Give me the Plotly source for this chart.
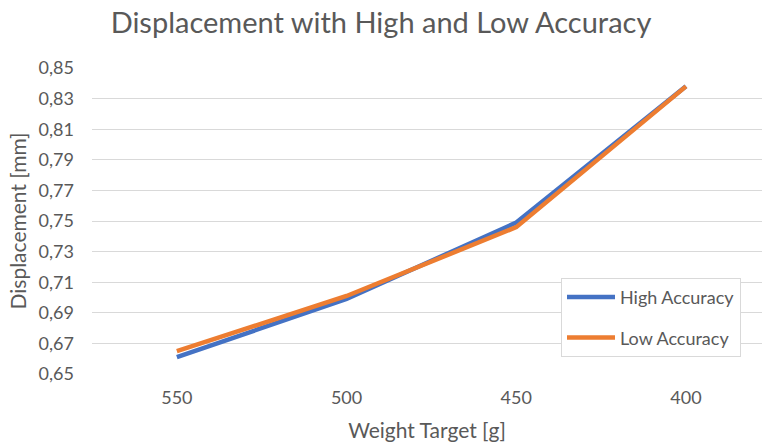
import plotly.graph_objects as go

# Data
weight_targets = ["550", "500", "450", "400"]
high_accuracy = [0.661, 0.699, 0.749, 0.838]
low_accuracy = [0.665, 0.701, 0.746, 0.838]
y_ticks = [0.65, 0.67, 0.69, 0.71, 0.73, 0.75, 0.77, 0.79, 0.81, 0.83, 0.85]

FONT = "Lato"
TEXT_GRAY = "#595959"
GRID = "#D9D9D9"

fig = go.Figure()
fig.add_trace(go.Scatter(
    x=weight_targets, y=high_accuracy, mode="lines", name="High Accuracy",
    line=dict(color="#4472C4", width=4.5), legendgroup="high",
))
fig.add_trace(go.Scatter(
    x=weight_targets, y=low_accuracy, mode="lines", name="Low Accuracy",
    line=dict(color="#ED7D31", width=4.5), legendgroup="low",
))

fig.update_layout(
    width=762, height=448,
    margin=dict(l=92, r=0, t=68, b=74),
    paper_bgcolor="white", plot_bgcolor="white",
    separators=",.",
    font=dict(family=FONT, color=TEXT_GRAY, size=18),
    title=dict(
        text="Displacement with High and Low Accuracy",
        x=0.5, xref="container", xanchor="center",
        y=0.95, yanchor="middle",
        font=dict(family=FONT, size=29, color=TEXT_GRAY),
    ),
    xaxis=dict(
        type="category",
        range=[-0.5, 3.448],
        showgrid=False, zeroline=False, showline=False,
        ticks="", ticklabelstandoff=11,
        tickfont=dict(size=18, color=TEXT_GRAY),
        title=dict(text="Weight Target [g]", font=dict(size=21, color=TEXT_GRAY), standoff=16),
    ),
    yaxis=dict(
        range=[0.65, 0.85],
        tickvals=y_ticks, tickformat=".2f",
        showgrid=True, gridcolor=GRID, gridwidth=1.3,
        zeroline=False, showline=False, ticks="",
        ticklabelstandoff=17,
        tickfont=dict(size=18, color=TEXT_GRAY),
        title=dict(text="Displacement [mm]", font=dict(size=21, color=TEXT_GRAY), standoff=6),
    ),
    legend=dict(
        x=0.70, y=0.314, xanchor="left", yanchor="top",
        bgcolor="white", bordercolor=GRID, borderwidth=1,
        font=dict(size=18, color=TEXT_GRAY),
        traceorder="grouped", tracegroupgap=14, itemwidth=48,
    ),
    showlegend=True,
)

fig.write_html("out.html")
